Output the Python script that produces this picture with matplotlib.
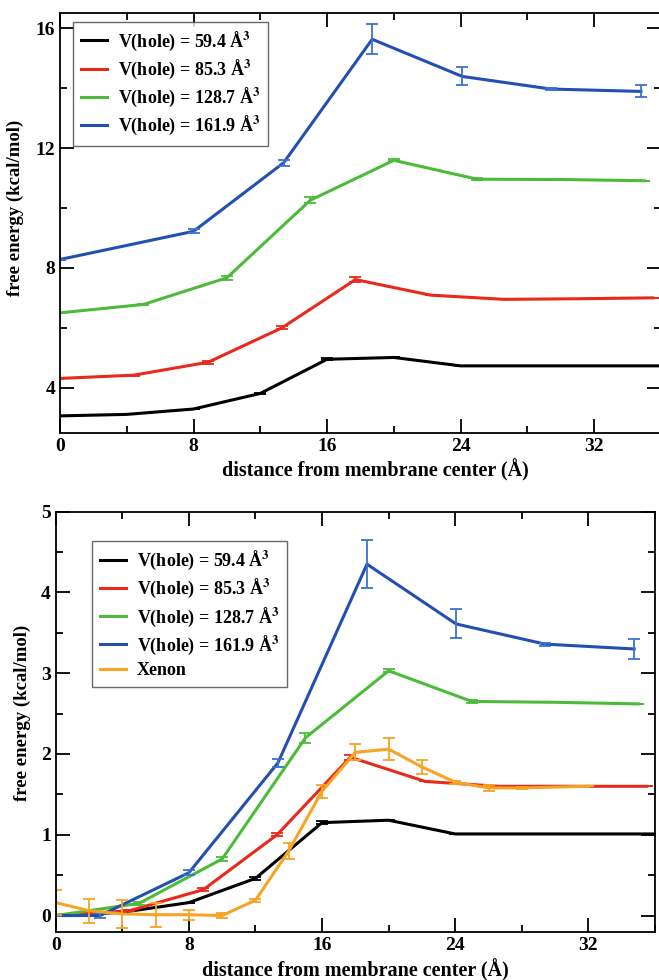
import matplotlib
matplotlib.use("Agg")
import matplotlib.pyplot as plt
from matplotlib.ticker import MultipleLocator

plt.rcParams['font.family'] = ['Liberation Serif', 'DejaVu Serif']
plt.rcParams['font.weight'] = 'bold'
plt.rcParams['mathtext.fontset'] = 'stix'

#### datos

labels = ["V(hole) = 59.4 Å$^{\\mathbf{3}}$", "V(hole) = 85.3 Å$^{\\mathbf{3}}$",
          "V(hole) = 128.7 Å$^{\\mathbf{3}}$", "V(hole) = 161.9 Å$^{\\mathbf{3}}$"]
colors = ["black", "#e8291c", "#4cbb3a", "#2350b0"]
ecolors = ["black", "#e8291c", "#4cbb3a", "#3a72d0"]

## panel superior
tx_black = [0, 4, 8, 12, 16, 20, 24, 28, 32, 36]
ty_black = [3.06, 3.11, 3.29, 3.81, 4.95, 5.01, 4.73, 4.73, 4.73, 4.73]
te_black = [0, 0, 0, 0.03, 0.03, 0, 0, 0, 0, 0]

tx_red = [0, 4.43, 8.87, 13.3, 17.7, 22.2, 26.6, 31.0, 35.5]
ty_red = [4.31, 4.42, 4.85, 6.0, 7.61, 7.09, 6.95, 6.97, 7.0]
te_red = [0, 0.02, 0.05, 0.05, 0.08, 0, 0, 0, 0]

tx_green = [0, 5, 10, 15, 20, 25, 30, 35]
ty_green = [6.5, 6.78, 7.67, 10.26, 11.59, 10.96, 10.95, 10.91]
te_green = [0, 0.03, 0.07, 0.1, 0.03, 0.03, 0, 0]

tx_blue = [0, 8.0, 13.4, 18.7, 24.1, 29.4, 34.8]
ty_blue = [8.28, 9.22, 11.51, 15.63, 14.39, 13.97, 13.89]
te_blue = [0, 0.07, 0.1, 0.5, 0.3, 0.03, 0.2]

## panel inferior
bx_black = [0, 4, 8, 12, 16, 20, 24, 28, 32, 36]
by_black = [0, 0.04, 0.16, 0.46, 1.15, 1.18, 1.01, 1.01, 1.01, 1.01]
be_black = [0, 0, 0, 0.02, 0.02, 0, 0, 0, 0, 0]

bx_red = [0, 4.43, 8.87, 13.3, 17.7, 22.2, 26.6, 31.0, 35.5]
by_red = [0, 0.06, 0.32, 1.0, 1.96, 1.66, 1.6, 1.6, 1.6]
be_red = [0, 0.01, 0.02, 0.02, 0.03, 0, 0, 0, 0]

bx_green = [0, 5, 10, 15, 20, 25, 30, 35]
by_green = [0, 0.15, 0.7, 2.2, 3.03, 2.65, 2.64, 2.62]
be_green = [0, 0.02, 0.03, 0.06, 0.02, 0.02, 0, 0]

bx_blue = [0, 2.67, 8.0, 13.35, 18.7, 24.05, 29.4, 34.75]
by_blue = [0, 0.0, 0.53, 1.89, 4.35, 3.61, 3.36, 3.3]
be_blue = [0, 0.03, 0.03, 0.05, 0.3, 0.18, 0.02, 0.12]

bx_xe = [0, 2, 4, 6, 8, 10, 12, 14, 16, 18, 20, 22, 24, 26, 28, 30, 32]
by_xe = [0.16, 0.06, 0.02, 0.01, 0.01, 0.0, 0.19, 0.8, 1.54, 2.02, 2.06, 1.84, 1.65, 1.58, 1.58, 1.59, 1.6]
be_xe = [0.15, 0.15, 0.17, 0.15, 0.06, 0.03, 0.02, 0.1, 0.08, 0.1, 0.14, 0.09, 0.02, 0.04, 0.01, 0, 0]
xe_color = "#f7a323"

fig = plt.figure(figsize=(6.59, 9.8), dpi=100)
ax1 = fig.add_axes([0.091, 0.5585, 0.912, 0.428])
ax2 = fig.add_axes([0.0845, 0.0493, 0.9094, 0.4286])


def estilo(ax, ymaj, ymin, xl, yl):
    ax.set_xlim(0, 36)
    ax.xaxis.set_major_locator(MultipleLocator(8))
    ax.xaxis.set_minor_locator(MultipleLocator(4))
    ax.yaxis.set_major_locator(MultipleLocator(ymaj))
    ax.yaxis.set_minor_locator(MultipleLocator(ymin))
    ax.tick_params(which='both', direction='in', top=True, right=True, width=1.3, labelsize=14)
    ax.tick_params(which='major', length=10)
    ax.tick_params(which='minor', length=5)
    ax.tick_params(axis='x', pad=4)
    for s in ax.spines.values():
        s.set_linewidth(1.3)
    for t in ax.get_xticklabels() + ax.get_yticklabels():
        t.set_fontweight('bold')
    ax.set_xlabel("distance from membrane center (Å)", fontsize=14.5, fontweight='bold')
    ax.set_ylabel("free energy (kcal/mol)", fontsize=13.5, fontweight='bold')
    ax.xaxis.set_label_coords(xl[0], xl[1])
    ax.yaxis.set_label_coords(yl[0], yl[1])


def curva(ax, x, y, e, c, ec, lab):
    ax.plot(x, y, color=c, lw=2.2, label=lab)
    ax.errorbar(x, y, yerr=e, fmt='none', ecolor=ec, elinewidth=1.3, capsize=4.5, capthick=1.3)


def leyenda(ax, pos):
    leg = ax.legend(loc='upper left', bbox_to_anchor=pos, fontsize=13, frameon=True,
                    fancybox=False, edgecolor='#444444', handlelength=1.45, handletextpad=0.6,
                    borderaxespad=0, labelspacing=0.28, borderpad=0.45)
    leg.get_frame().set_linewidth(1.0)
    for t in leg.get_texts():
        t.set_fontweight('bold')


# Panel superior
curva(ax1, tx_black, ty_black, te_black, colors[0], ecolors[0], labels[0])
curva(ax1, tx_red, ty_red, te_red, colors[1], ecolors[1], labels[1])
curva(ax1, tx_green, ty_green, te_green, colors[2], ecolors[2], labels[2])
curva(ax1, tx_blue, ty_blue, te_blue, colors[3], ecolors[3], labels[3])
ax1.set_ylim(2.5, 16.5)
estilo(ax1, 4, 2, (0.524, -0.062), (-0.06, 0.537))
leyenda(ax1, (0.021, 0.98))

# Panel inferior
curva(ax2, bx_black, by_black, be_black, colors[0], ecolors[0], labels[0])
curva(ax2, bx_red, by_red, be_red, colors[1], ecolors[1], labels[1])
curva(ax2, bx_green, by_green, be_green, colors[2], ecolors[2], labels[2])
curva(ax2, bx_blue, by_blue, be_blue, colors[3], ecolors[3], labels[3])
curva(ax2, bx_xe, by_xe, be_xe, xe_color, xe_color, "Xenon")
ax2.set_ylim(-0.2, 5)
estilo(ax2, 1, 0.5, (0.5, -0.066), (-0.042, 0.522))
leyenda(ax2, (0.06, 0.93))

fig.savefig("out.png", dpi=100)
